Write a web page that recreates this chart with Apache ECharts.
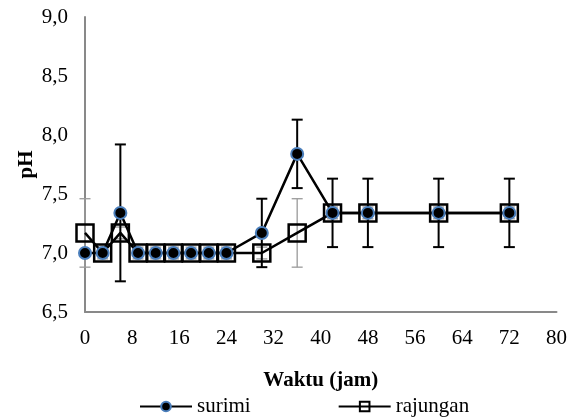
<!DOCTYPE html>
<html>
<head>
<meta charset="utf-8">
<script src="https://cdn.jsdelivr.net/npm/echarts@6/dist/echarts.min.js"></script>
<style>
html,body{margin:0;padding:0;background:#fff;}
#chart{width:570px;height:420px;}
</style>
</head>
<body>
<div id="chart"></div>
<script>
// Data
var hours = [0, 3, 6, 9, 12, 15, 18, 21, 24, 30, 36, 42, 48, 60, 72];
var surimi = [7.0, 7.0, 7.34, 7.0, 7.0, 7.0, 7.0, 7.0, 7.0, 7.17, 7.84, 7.34, 7.34, 7.34, 7.34];
var surimiErr = [0, 0, 0.58, 0, 0, 0, 0, 0, 0, 0.29, 0.29, 0.29, 0.29, 0.29, 0.29];
var rajungan = [7.17, 7.0, 7.17, 7.0, 7.0, 7.0, 7.0, 7.0, 7.0, 7.0, 7.17, 7.34, 7.34, 7.34, 7.34];
var rajunganErr = [0.29, 0.05, 0.05, 0.05, 0.05, 0.05, 0.05, 0.05, 0.05, 0.05, 0.29, 0.05, 0.05, 0.05, 0.05];
var xTicks = [0, 8, 16, 24, 32, 40, 48, 56, 64, 72, 80];
var yTicks = [6.5, 7.0, 7.5, 8.0, 8.5, 9.0];

var FONT = "'Liberation Serif','Times New Roman',serif";
var FS = 21;

function pairs(xs, ys) { return xs.map(function (x, i) { return [x, ys[i]]; }); }
function errData(xs, ys, es) {
  return xs.map(function (x, i) { return [x, ys[i] - es[i], ys[i] + es[i]]; });
}
function errRender(color, width) {
  return function (params, api) {
    var x = api.value(0), lo = api.value(1), hi = api.value(2);
    if (hi - lo <= 0) return null;
    var p1 = api.coord([x, hi]);
    var p2 = api.coord([x, lo]);
    var half = 5.5;
    var st = { stroke: color, lineWidth: width, fill: null };
    return {
      type: 'group',
      children: [
        { type: 'line', shape: { x1: p1[0], y1: p1[1], x2: p2[0], y2: p2[1] }, style: st },
        { type: 'line', shape: { x1: p1[0] - half, y1: p1[1], x2: p1[0] + half, y2: p1[1] }, style: st },
        { type: 'line', shape: { x1: p2[0] - half, y1: p2[1], x2: p2[0] + half, y2: p2[1] }, style: st }
      ]
    };
  };
}

var chart = echarts.init(document.getElementById('chart'), null, { renderer: 'canvas' });
chart.setOption({
  animation: false,
  backgroundColor: '#ffffff',
  textStyle: { fontFamily: FONT, color: '#000' },
  grid: { left: 85, right: 12, top: 17, bottom: 108, containLabel: false },
  xAxis: {
    type: 'value',
    min: xTicks[0],
    max: xTicks[xTicks.length - 1],
    interval: 8,
    name: 'Waktu (jam)',
    nameLocation: 'middle',
    nameGap: 58,
    nameMoveOverlap: false,
    nameTextStyle: { fontFamily: FONT, fontSize: FS, fontWeight: 'bold', color: '#000' },
    axisLine: { show: true, lineStyle: { color: '#898989', width: 2 } },
    axisTick: { show: false },
    splitLine: { show: false },
    axisLabel: { fontFamily: FONT, fontSize: FS, color: '#000', margin: 16 }
  },
  yAxis: {
    type: 'value',
    min: yTicks[0],
    max: yTicks[yTicks.length - 1],
    interval: 0.5,
    name: 'pH',
    nameLocation: 'middle',
    nameGap: 48,
    nameMoveOverlap: false,
    nameTextStyle: { fontFamily: FONT, fontSize: FS, fontWeight: 'bold', color: '#000' },
    axisLine: { show: true, lineStyle: { color: '#898989', width: 2 } },
    axisTick: { show: false },
    splitLine: { show: false },
    axisLabel: {
      fontFamily: FONT, fontSize: FS, color: '#000', margin: 17,
      formatter: function (v) { return v.toFixed(1).replace('.', ','); }
    }
  },
  legend: {
    left: 134,
    top: 391,
    itemWidth: 52,
    itemHeight: 12,
    itemGap: 87,
    textStyle: { fontFamily: FONT, fontSize: FS, color: '#000', padding: [0, 0, 0, 0] },
    data: ['surimi', 'rajungan']
  },
  series: [
    {
      name: 'rajungan-err',
      type: 'custom',
      renderItem: errRender('#9a9a9a', 1.3),
      data: errData(hours, rajungan, rajunganErr),
      encode: { x: 0, y: [1, 2] },
      z: 1,
      silent: true
    },
    {
      name: 'surimi-err',
      type: 'custom',
      renderItem: errRender('#000000', 2),
      data: errData(hours, surimi, surimiErr),
      encode: { x: 0, y: [1, 2] },
      z: 1,
      silent: true
    },
    {
      name: 'rajungan',
      type: 'line',
      data: pairs(hours, rajungan),
      symbol: 'rect',
      symbolSize: 17,
      lineStyle: { color: '#000', width: 2.5 },
      itemStyle: { color: 'rgba(255,255,255,0)', borderColor: '#000', borderWidth: 2.5 },
      z: 3
    },
    {
      name: 'surimi',
      type: 'line',
      data: pairs(hours, surimi),
      symbol: 'circle',
      symbolSize: 12,
      lineStyle: { color: '#000', width: 2.5 },
      itemStyle: { color: '#000', borderColor: '#4a7ebb', borderWidth: 2 },
      z: 4
    }
  ]
});
</script>
</body>
</html>
